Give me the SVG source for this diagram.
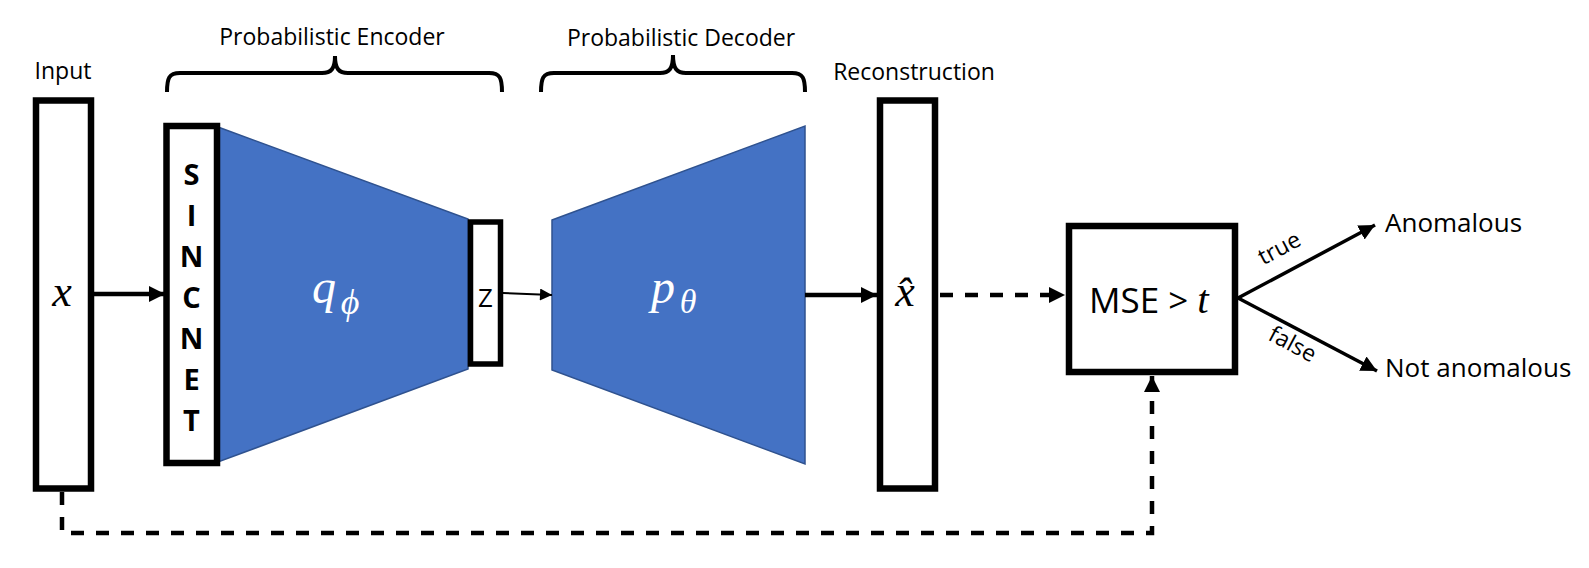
<svg xmlns="http://www.w3.org/2000/svg" width="1589" height="568" viewBox="0 0 1589 568">
<style>
.box{fill:#fff;stroke:#000;stroke-width:6.5}
.trap{fill:#4472C4;stroke:#2F528F;stroke-width:1.5}
.lbl{font-family:"Open Sans",sans-serif;fill:#000}
.math{font-family:"Liberation Serif","DejaVu Serif",serif;font-style:italic}
.sinc{font-family:"Open Sans",sans-serif;font-weight:bold;font-size:29px;text-anchor:middle}
.brace{fill:none;stroke:#000;stroke-width:4}
.solid{fill:none;stroke:#000;stroke-width:4.5}
.dash{fill:none;stroke:#000;stroke-width:4.5;stroke-dasharray:13 12}
</style>
<defs>
<marker id="ah" viewBox="0 0 10 10" refX="10" refY="5" markerWidth="16" markerHeight="17" markerUnits="userSpaceOnUse" orient="auto"><path d="M0,0L10,5L0,10Z" fill="#000"/></marker>
<marker id="ahs" viewBox="0 0 10 10" refX="10" refY="5" markerWidth="14" markerHeight="12" markerUnits="userSpaceOnUse" orient="auto"><path d="M0,0L10,5L0,10Z" fill="#000"/></marker>
</defs>

<g id="labels">
<text class="lbl" x="63" y="79" font-size="23" text-anchor="middle">Input</text>
<text class="lbl" x="332" y="45" font-size="23" text-anchor="middle">Probabilistic Encoder</text>
<text class="lbl" x="681" y="46" font-size="23" text-anchor="middle">Probabilistic Decoder</text>
<text class="lbl" x="914" y="80" font-size="23" text-anchor="middle">Reconstruction</text>
<path class="brace" d="M167,92 C167,78 169,73 180,73 L322,73 C331,73 335,69 335,56 C335,69 339,73 348,73 L489,73 C500,73 502,78 502,92"/>
<path class="brace" d="M541,92 C541,78 543,73 554,73 L660,73 C669,73 673,69 673,55 C673,69 677,73 686,73 L792,73 C803,73 805,78 805,92"/>
</g>

<g id="input">
<rect class="box" x="36" y="100.5" width="55" height="388"/>
<text class="math" x="62" y="306" font-size="44" text-anchor="middle">x</text>
</g>

<g id="encoder">
<polygon class="trap" points="218,127 468,219 468,369 218,462"/>
<text class="math" x="324" y="303" font-size="48" fill="#fff" text-anchor="middle">q</text>
<text class="math" x="350" y="314" font-size="36" fill="#fff" text-anchor="middle">ϕ</text>
</g>

<g id="sincnet">
<rect class="box" x="166.5" y="126" width="50.5" height="337"/>
<text class="sinc" x="191.5" y="185">S</text>
<text class="sinc" x="191.5" y="226">I</text>
<text class="sinc" x="191.5" y="267">N</text>
<text class="sinc" x="191.5" y="308">C</text>
<text class="sinc" x="191.5" y="349">N</text>
<text class="sinc" x="191.5" y="390">E</text>
<text class="sinc" x="191.5" y="431">T</text>
</g>

<g id="z">
<rect class="box" x="470.5" y="222" width="30" height="142" style="stroke-width:5.5"/>
<text class="lbl" x="485.5" y="307" font-size="26" text-anchor="middle">Z</text>
</g>

<g id="decoder">
<polygon class="trap" points="552,220 805,126 805,464 552,370"/>
<text class="math" x="663" y="303" font-size="48" fill="#fff" text-anchor="middle">p</text>
<text class="math" x="688" y="313" font-size="34" fill="#fff" text-anchor="middle">θ</text>
</g>

<g id="reconstruction">
<rect class="box" x="880" y="100.5" width="55" height="388"/>
<text class="math" x="905" y="306" font-size="44" text-anchor="middle">x̂</text>
</g>

<g id="mse">
<rect class="box" x="1069" y="226" width="166" height="146"/>
<text class="lbl" x="1089" y="313" font-size="35">MSE &gt; <tspan class="math" font-size="41">t</tspan></text>
</g>

<g id="outputs">
<text class="lbl" x="1385" y="232" font-size="26">Anomalous</text>
<text class="lbl" x="1385" y="377" font-size="26">Not anomalous</text>
<text class="lbl" font-size="23" text-anchor="middle" transform="translate(1283,255) rotate(-28)">true</text>
<text class="lbl" font-size="23" text-anchor="middle" transform="translate(1289,351) rotate(28)">false</text>
</g>

<g id="connectors">
<line class="solid" x1="94" y1="294" x2="165" y2="294" marker-end="url(#ah)"/>
<line x1="503" y1="293" x2="552" y2="295" stroke="#000" stroke-width="2" marker-end="url(#ahs)"/>
<line class="solid" x1="805" y1="295" x2="877" y2="295" marker-end="url(#ah)"/>
<line class="dash" x1="940" y1="295" x2="1065" y2="295" marker-end="url(#ah)"/>
<path class="dash" d="M62,492 L62,533 L1152,533 L1152,376" marker-end="url(#ah)"/>
<line x1="1238" y1="298" x2="1375" y2="225" stroke="#000" stroke-width="3.5" marker-end="url(#ah)"/>
<line x1="1238" y1="298" x2="1377" y2="371" stroke="#000" stroke-width="3.5" marker-end="url(#ah)"/>
</g>
</svg>
